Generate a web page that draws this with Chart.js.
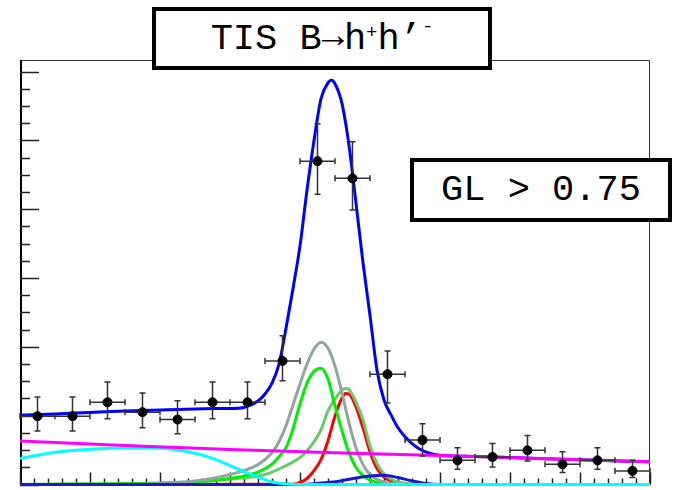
<!DOCTYPE html>
<html>
<head>
<meta charset="utf-8">
<script src="https://cdn.jsdelivr.net/npm/chart.js@4.4.1/dist/chart.umd.min.js"></script>
<style>
  body { margin: 0; background: #fff; }
  #wrap { position: relative; width: 673px; height: 490px; }
  .caixa {
    position: absolute; box-sizing: border-box;
    border: 4px solid #000; background: #fff;
    font: 37px "Liberation Mono", "DejaVu Sans Mono", monospace;
    color: #000;
    display: flex; align-items: center; justify-content: center;
    white-space: pre;
  }
  #titulo { left: 152px; top: 7px; width: 340px; height: 63px; }
  #corte { left: 410px; top: 158px; width: 262px; height: 64px; }
  .sup { font-size: 19px; position: relative; }
  .mais { top: -6px; }
  .menos { top: -12px; }
  .seta { position: relative; top: -2px; }
</style>
</head>
<body>
<div id="wrap">
  <canvas id="grafico" width="673" height="490"></canvas>
  <div class="caixa" id="titulo">TIS B<span class="seta">→</span>h<span class="sup mais">+</span>h’<span class="sup menos">-</span></div>
  <div class="caixa" id="corte">GL &gt; 0.75</div>
</div>
<script>
// mass window (MeV) and bins
const X_MIN = 4800, X_MAX = 5700;
const Y_MIN = 0, Y_MAX = 61.7;
const HALF_BIN = 25;

// data points
const BIN_CENTERS = [4825, 4875, 4925, 4975, 5025, 5075, 5125, 5175, 5225, 5275, 5325, 5375, 5425, 5475, 5525, 5575, 5625, 5675];
const COUNTS = [9.93, 9.93, 11.95, 10.51, 9.44, 11.95, 11.95, 17.96, 47.0, 44.5, 16.04, 6.46, 3.51, 4.00, 4.96, 2.93, 3.51, 1.98];
const ERR_HI = [2.79, 2.79, 2.93, 2.79, 2.75, 2.93, 2.93, 3.67, 5.45, 5.30, 3.37, 2.36, 1.84, 1.97, 2.17, 1.84, 1.84, 1.53];
const ERR_LO = [2.17, 2.17, 2.41, 2.27, 2.07, 2.41, 2.41, 2.89, 4.81, 4.62, 4.19, 2.31, 1.30, 1.45, 1.53, 1.20, 1.30, 0.97];

// total fit
const TOTAL_X = [4800, 4850, 4900, 4950, 5000, 5050, 5080, 5100, 5120, 5140, 5150, 5160, 5170, 5180, 5190, 5200, 5210, 5220, 5230, 5240, 5245, 5250, 5260, 5270, 5280, 5290, 5300, 5310, 5320, 5330, 5340, 5350, 5370, 5400, 5450, 5500, 5600, 5700];
const TOTAL_Y = [10.07, 10.26, 10.48, 10.69, 10.84, 10.98, 11.03, 11.05, 11.20, 12.14, 13.15, 14.74, 17.49, 22.69, 28.47, 34.68, 42.77, 50.00, 56.07, 58.38, 58.75, 58.24, 55.35, 49.28, 40.90, 32.23, 24.57, 16.62, 12.28, 10.12, 8.24, 6.94, 5.20, 4.26, 4.08, 3.93, 3.58, 3.29];

// combinatorial background
const MAG_X = [4800, 4950, 5100, 5250, 5400, 5550, 5700];
const MAG_Y = [6.32, 5.66, 5.10, 4.62, 4.22, 3.76, 3.29];

// partially reconstructed background
const CYAN_X = [4800, 4850, 4900, 4950, 5000, 5050, 5080, 5100, 5120, 5140, 5160, 5180, 5200, 5700];
const CYAN_Y = [3.80, 4.70, 5.13, 5.32, 5.27, 4.55, 3.61, 2.75, 1.88, 1.08, 0.36, 0.07, 0, 0];

// small component
const BUMP_X = [4800, 5200, 5220, 5240, 5260, 5280, 5300, 5320, 5340, 5360, 5380, 5400, 5700];
const BUMP_Y = [0, 0, 0.12, 0.29, 0.55, 0.94, 1.23, 1.33, 1.01, 0.53, 0.14, 0, 0];

// signal components
const GRAY_X = [4800, 4950, 5050, 5100, 5140, 5160, 5170, 5180, 5190, 5200, 5210, 5220, 5230, 5240, 5250, 5260, 5270, 5280, 5290, 5300, 5320, 5350, 5400, 5700];
const GRAY_Y = [0, 0.03, 0.51, 1.45, 2.89, 4.62, 6.21, 8.53, 11.56, 14.60, 17.49, 19.65, 20.66, 19.80, 17.20, 13.29, 8.96, 5.35, 2.89, 1.45, 0.36, 0.03, 0, 0];

const VERDE_X = [4800, 5050, 5100, 5140, 5160, 5170, 5180, 5190, 5200, 5210, 5220, 5230, 5240, 5250, 5260, 5270, 5280, 5290, 5300, 5320, 5350, 5700];
const VERDE_Y = [0, 0.39, 0.87, 1.81, 2.96, 4.05, 5.35, 8.09, 11.71, 14.74, 16.47, 16.91, 15.32, 11.42, 7.80, 4.62, 2.46, 1.30, 0.65, 0.14, 0, 0];

const VERDE2_X = [4800, 5000, 5050, 5100, 5150, 5180, 5200, 5210, 5220, 5230, 5240, 5250, 5260, 5265, 5270, 5280, 5290, 5300, 5310, 5320, 5330, 5340, 5360, 5400, 5700];
const VERDE2_Y = [0, 0.07, 0.36, 0.79, 1.45, 2.75, 3.90, 4.91, 6.21, 7.95, 10.69, 12.43, 13.73, 13.95, 13.80, 11.99, 9.39, 5.64, 3.03, 1.52, 0.79, 0.36, 0.07, 0, 0];

const RED_X = [4800, 5190, 5200, 5210, 5220, 5230, 5240, 5250, 5260, 5265, 5270, 5280, 5290, 5300, 5310, 5320, 5330, 5340, 5360, 5700];
const RED_Y = [0, 0.03, 0.29, 0.87, 2.02, 3.61, 6.36, 9.97, 12.57, 13.22, 13.15, 11.27, 8.24, 4.77, 2.31, 1.08, 0.51, 0.22, 0, 0];

function pontos(xs, ys) {
  return xs.map((x, i) => ({ x: x, y: ys[i] }));
}

function curva(xs, ys, cor, ordem) {
  return {
    data: pontos(xs, ys),
    borderColor: cor,
    borderWidth: 3,
    pointRadius: 0,
    fill: false,
    cubicInterpolationMode: "monotone",
    clip: false,
    order: ordem
  };
}

// frame + inward ticks, ROOT style
const moldura = {
  id: "moldura",
  beforeDatasetsDraw(chart) {
    const { ctx, chartArea: a, scales } = chart;
    ctx.save();
    ctx.strokeStyle = "#333";
    ctx.lineWidth = 1;
    ctx.beginPath();
    ctx.moveTo(a.left, a.top + 0.5);
    ctx.lineTo(a.right - 0.5, a.top + 0.5);
    ctx.lineTo(a.right - 0.5, a.bottom);
    ctx.stroke();

    ctx.strokeStyle = "#000";
    ctx.lineWidth = 2;
    ctx.beginPath();
    ctx.moveTo(a.left + 1, a.top);
    ctx.lineTo(a.left + 1, a.bottom);
    ctx.lineTo(a.right, a.bottom);
    ctx.stroke();

    ctx.lineWidth = 1.5;
    ctx.strokeStyle = "#222";
    ctx.beginPath();
    for (let v = 0; v <= Y_MAX; v += 2.5) {
      const y = Math.round(scales.y.getPixelForValue(v)) + 0.5;
      const len = v % 10 === 0 ? 19 : 10;
      ctx.moveTo(a.left, y);
      ctx.lineTo(a.left + len, y);
    }
    for (let m = X_MIN; m <= X_MAX; m += 20) {
      const x = Math.round(scales.x.getPixelForValue(m)) + 0.5;
      const len = (m - X_MIN) % 100 === 0 ? 12 : 6;
      ctx.moveTo(x, a.bottom);
      ctx.lineTo(x, a.bottom - len);
    }
    ctx.stroke();
    ctx.restore();
  },
  beforeDatasetDraw(chart, args) {
    if (args.index !== 0) return;
    const { ctx, scales } = chart;
    ctx.save();
    ctx.strokeStyle = "#333";
    ctx.lineWidth = 1.5;
    ctx.beginPath();
    BIN_CENTERS.forEach((m, i) => {
      const x = scales.x.getPixelForValue(m);
      const x0 = scales.x.getPixelForValue(m - HALF_BIN);
      const x1 = scales.x.getPixelForValue(m + HALF_BIN);
      const y = scales.y.getPixelForValue(COUNTS[i]);
      const yHi = scales.y.getPixelForValue(COUNTS[i] + ERR_HI[i]);
      const yLo = scales.y.getPixelForValue(COUNTS[i] - ERR_LO[i]);
      ctx.moveTo(x0, y); ctx.lineTo(x1, y);
      ctx.moveTo(x0, y - 3); ctx.lineTo(x0, y + 3);
      ctx.moveTo(x1, y - 3); ctx.lineTo(x1, y + 3);
      ctx.moveTo(x, yHi); ctx.lineTo(x, yLo);
      ctx.moveTo(x - 3, yHi); ctx.lineTo(x + 3, yHi);
      ctx.moveTo(x - 3, yLo); ctx.lineTo(x + 3, yLo);
    });
    ctx.stroke();
    ctx.restore();
  }
};

const ctx = document.getElementById("grafico").getContext("2d");

new Chart(ctx, {
  type: "line",
  data: {
    datasets: [
      {
        type: "scatter",
        data: pontos(BIN_CENTERS, COUNTS),
        backgroundColor: "#000",
        borderColor: "#000",
        pointRadius: 4.5,
        showLine: false,
        clip: false,
        order: 0
      },
      curva(MAG_X, MAG_Y, "#ff00ff", 1),
      curva(TOTAL_X, TOTAL_Y, "#0000ff", 2),
      curva(CYAN_X, CYAN_Y, "#00ffff", 3),
      curva(BUMP_X, BUMP_Y, "#1a1acd", 4),
      curva(GRAY_X, GRAY_Y, "#8fa5a2", 5),
      curva(VERDE_X, VERDE_Y, "#00ee00", 6),
      curva(VERDE2_X, VERDE2_Y, "#66cc66", 7),
      curva(RED_X, RED_Y, "#ff0000", 8)
    ]
  },
  options: {
    responsive: false,
    animation: false,
    devicePixelRatio: 1,
    layout: { padding: { left: 20, right: 23, top: 60, bottom: 3 } },
    scales: {
      x: { type: "linear", min: X_MIN, max: X_MAX, display: false },
      y: { type: "linear", min: Y_MIN, max: Y_MAX, display: false }
    },
    plugins: {
      legend: { display: false },
      tooltip: { enabled: false }
    }
  },
  plugins: [moldura]
});
</script>
</body>
</html>
